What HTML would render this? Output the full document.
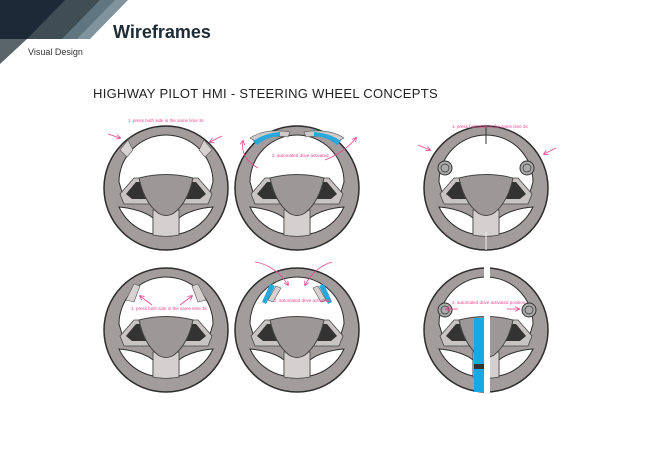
<!DOCTYPE html>
<html><head><style>
body{margin:0;width:650px;height:450px;background:#fff;overflow:hidden;font-family:"Liberation Sans",sans-serif}
</style></head><body>
<svg width="650" height="450" viewBox="0 0 650 450" xmlns="http://www.w3.org/2000/svg">
<defs>
<g id="w">
  <circle r="62" fill="#a29c9c" stroke="#2e2e2e" stroke-width="1.5"/>
  <path d="M-44,4 L-47,-6 A47 47 0 0 1 47,-6 L44,4 C30,-1 -30,-1 -44,4 Z" fill="#fff" stroke="#2e2e2e" stroke-width="1"/>
  <path d="M-47,19 A48 48 0 0 0 -13,46 L-13,30 C-20,24 -34,20 -47,19 Z" fill="#fff" stroke="#2e2e2e" stroke-width="1"/>
  <path d="M47,19 A48 48 0 0 1 13,46 L13,30 C20,24 34,20 47,19 Z" fill="#fff" stroke="#2e2e2e" stroke-width="1"/>
  <path d="M-46,6 L-32,-10 L32,-10 L46,6 L42,16 L-42,16 Z" fill="#c9c4c4" stroke="#444" stroke-width="0.8"/>
  <path d="M-40,6 L-30,-6 L30,-6 L40,6 L34,11 L-34,11 Z" fill="#333"/>
  <path d="M-13,22 L13,22 L13,47 A62 62 0 0 1 -13,47 Z" fill="#d4d0d0" stroke="#444" stroke-width="0.8"/>
  <path d="M-27,-10 Q0,-17 27,-10 Q22,14 8,25 Q0,30 -8,25 Q-22,14 -27,-10 Z" fill="#9d9898" stroke="#444" stroke-width="1"/>
</g>
<marker id="a" markerWidth="6" markerHeight="6" refX="5" refY="3" orient="auto"><path d="M0,0 L6,3 L0,6" fill="none" stroke="#e8458f" stroke-width="1"/></marker>
</defs>
<!-- header -->
<polygon points="0,0 128,0 90,39 0,39" fill="#7f949c"/>
<polygon points="0,0 115,0 77,39 0,39" fill="#5f7580"/>
<polygon points="0,0 100,0 62,39 0,39" fill="#3f4e55"/>
<polygon points="0,0 65,0 27,39 0,39" fill="#1b2a36"/>
<polygon points="0,39 27,39 0,64" fill="#5a646b"/>
<text x="113" y="38" font-size="18" font-weight="bold" fill="#1d2b36">Wireframes</text>
<text x="28" y="55" font-size="9" fill="#333">Visual Design</text>
<text x="93" y="98" font-size="13" fill="#222" letter-spacing="0.3">HIGHWAY PILOT HMI - STEERING WHEEL CONCEPTS</text>

<use href="#w" x="166" y="188"/>
<use href="#w" x="297" y="188"/>
<use href="#w" x="166" y="330"/>
<use href="#w" x="297" y="330"/>
<use href="#w" x="486" y="188"/>
<use href="#w" x="486" y="330"/>

<!-- wheel1 paddles -->
<path d="M120,150 L128,140 L133,150 L127,157Z" fill="#d6d2d2" stroke="#555" stroke-width=".6"/>
<path d="M212,150 L204,140 L199,150 L205,157Z" fill="#d6d2d2" stroke="#555" stroke-width=".6"/>
<text x="128" y="122" font-size="4.5" fill="#e8458f">1. press both side in the same time 3s</text>
<line x1="108" y1="134" x2="120" y2="138" stroke="#e8458f" stroke-width=".8" marker-end="url(#a)"/>
<line x1="222" y1="136" x2="210" y2="142" stroke="#e8458f" stroke-width=".8" marker-end="url(#a)"/>
<!-- wheel2 -->
<path d="M250,138 Q265,128 290,132 L288,137 Q268,134 257,142 Z" fill="#cfcaca" stroke="#555" stroke-width=".6"/>
<path d="M344,138 Q329,128 304,132 L306,137 Q326,134 337,142 Z" fill="#cfcaca" stroke="#555" stroke-width=".6"/>
<path d="M253,141 Q265,133 280,132 L280,136 Q266,137 257,145Z" fill="#29a8de"/>
<path d="M341,141 Q329,133 314,132 L314,136 Q328,137 337,145Z" fill="#29a8de"/>
<text x="272" y="157" font-size="4.5" fill="#e8458f">2. automated drive activated</text>
<path d="M258,168 Q240,158 243,141" fill="none" stroke="#e8458f" stroke-width=".8" marker-end="url(#a)"/>
<path d="M325,160 Q345,152 356,138" fill="none" stroke="#e8458f" stroke-width=".8" marker-end="url(#a)"/>
<!-- wheel3 -->
<path d="M126,300 L134,284 L140,286 L134,302Z" fill="#d6d2d2" stroke="#555" stroke-width=".6"/>
<path d="M206,300 L198,284 L192,286 L198,302Z" fill="#d6d2d2" stroke="#555" stroke-width=".6"/>
<text x="131" y="310" font-size="4.5" fill="#e8458f">1. press both side in the same time 3s</text>
<line x1="152" y1="305" x2="140" y2="296" stroke="#e8458f" stroke-width=".8" marker-end="url(#a)"/>
<line x1="180" y1="305" x2="192" y2="296" stroke="#e8458f" stroke-width=".8" marker-end="url(#a)"/>
<!-- wheel4 -->
<path d="M262,302 L270,284 L275,286 L266,304Z" fill="#29a8de"/>
<path d="M332,302 L324,284 L319,286 L328,304Z" fill="#29a8de"/>
<path d="M268,300 L276,286 L281,288 L273,302Z" fill="#d6d2d2" stroke="#555" stroke-width=".6"/>
<path d="M326,300 L318,286 L313,288 L321,302Z" fill="#d6d2d2" stroke="#555" stroke-width=".6"/>
<text x="274" y="302" font-size="4.5" fill="#e8458f">2. automated drive activated</text>
<path d="M255,262 Q275,265 288,285" fill="none" stroke="#e8458f" stroke-width=".8" marker-end="url(#a)"/>
<path d="M332,262 Q315,267 305,285" fill="none" stroke="#e8458f" stroke-width=".8" marker-end="url(#a)"/>
<!-- wheel5 -->
<line x1="486" y1="126" x2="486" y2="144" stroke="#333" stroke-width="1"/>
<line x1="486" y1="232" x2="486" y2="250" stroke="#eee" stroke-width="1"/>
<circle cx="445" cy="168" r="7" fill="#aaa" stroke="#333"/><circle cx="445" cy="168" r="4" fill="none" stroke="#333" stroke-width=".7"/>
<circle cx="527" cy="168" r="7" fill="#aaa" stroke="#333"/><circle cx="527" cy="168" r="4" fill="none" stroke="#333" stroke-width=".7"/>
<text x="452" y="128" font-size="4.5" fill="#e8458f">1. press both side in the same time 3s</text>
<line x1="418" y1="145" x2="430" y2="150" stroke="#e8458f" stroke-width=".8" marker-end="url(#a)"/>
<line x1="556" y1="148" x2="544" y2="154" stroke="#e8458f" stroke-width=".8" marker-end="url(#a)"/>
<!-- wheel6 -->
<rect x="484" y="260" width="6" height="140" fill="#fff"/>
<rect x="474" y="318" width="10" height="74" fill="#1aa8e0"/>
<rect x="474" y="364" width="10" height="5" fill="#333"/>
<circle cx="445" cy="310" r="7" fill="#aaa" stroke="#333"/><circle cx="445" cy="310" r="4" fill="none" stroke="#333" stroke-width=".7"/>
<circle cx="529" cy="310" r="7" fill="#aaa" stroke="#333"/><circle cx="529" cy="310" r="4" fill="none" stroke="#333" stroke-width=".7"/>
<text x="452" y="304" font-size="4.5" fill="#e8458f">2. automated drive activated position</text>
<line x1="458" y1="309" x2="446" y2="309" stroke="#e8458f" stroke-width=".8" marker-end="url(#a)"/>
<line x1="507" y1="309" x2="519" y2="309" stroke="#e8458f" stroke-width=".8" marker-end="url(#a)"/>
</svg>
</body></html>
